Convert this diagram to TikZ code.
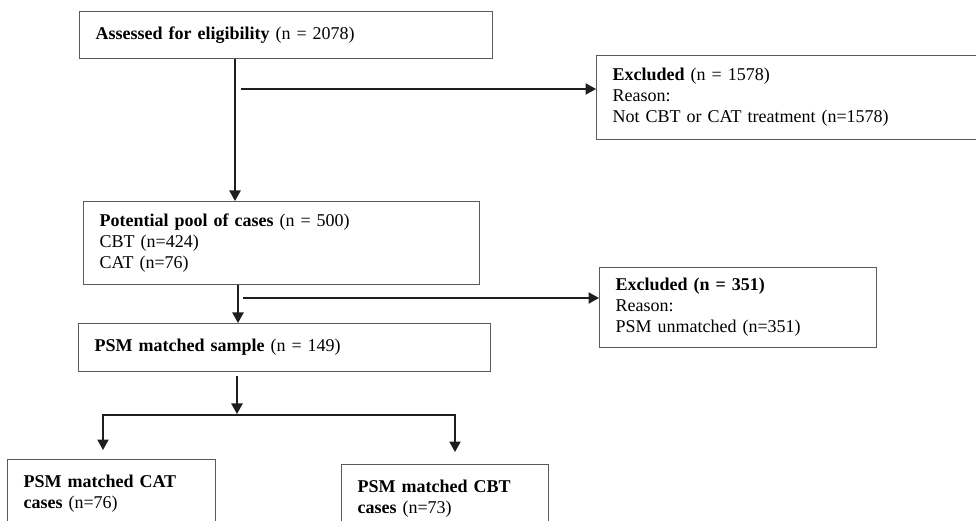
\documentclass[tikz,border=0pt]{standalone}
\usepackage{fontspec}
\setmainfont{Liberation Serif}
\usepackage{tikz}
\usetikzlibrary{arrows.meta, positioning}
\definecolor{boxgray}{HTML}{5a5a5a}
\definecolor{lindark}{HTML}{1e1e1e}

\begin{document}
\begin{tikzpicture}[
  x=0.6667pt, y=-0.6667pt,
  bx/.style={rectangle, draw=boxgray, line width=0.8pt, anchor=north west,
             inner xsep=10.67pt, inner ysep=3pt, align=left,
             font=\fontsize{12}{14}\selectfont},
  arr/.style={-{Triangle[length=7pt, width=7.5pt]}, line width=1pt, color=lindark},
  ln/.style={line width=1pt, color=lindark, line cap=rect}
]
\useasboundingbox (0,0) rectangle (976,521);
\clip (0,0) rectangle (976,521);

\node[bx, text width=254pt, minimum height=31.33pt] (elig) at (79,11) {\textbf{Assessed for eligibility} (n = 2078)};
\node[bx, text width=245.33pt, minimum height=56pt] (exa) at (596,55) {\textbf{Excluded} (n = 1578)\\Reason:\\Not CBT or CAT treatment (n=1578)};
\node[bx, text width=242.67pt, minimum height=55.33pt] (pool) at (83,201) {\textbf{Potential pool of cases} (n = 500)\\CBT (n=424)\\CAT (n=76)};
\node[bx, text width=163.33pt, minimum height=53.33pt] (exb) at (599,267) {\textbf{Excluded (n = 351)}\\Reason:\\PSM unmatched (n=351)};
\node[bx, text width=253.33pt, minimum height=32pt] (psm) at (78,323) {\textbf{PSM matched sample} (n = 149)};
\node[bx, text width=117.33pt, minimum height=45.33pt] (cat) at (7,459) {\textbf{PSM matched CAT}\\\textbf{cases} (n=76)};
\node[bx, text width=116.67pt, minimum height=45.33pt] (cbt) at (341,464) {\textbf{PSM matched CBT}\\\textbf{cases} (n=73)};

\coordinate (v1) at (235,0);
\coordinate (v2) at (238,0);
\coordinate (h1) at (241,89);
\coordinate (h2) at (243,298);
\coordinate (s3) at (237,376);
\coordinate (fk) at (237,414);
\coordinate (fl) at (103,415);
\coordinate (fr) at (455,415);

\draw[arr] (elig.south -| v1) -- (pool.north -| v1);
\draw[arr] (h1) -- (h1 -| exa.west);
\draw[arr] (pool.south -| v2) -- (psm.north -| v2);
\draw[arr] (h2) -- (h2 -| exb.west);
\draw[arr] (s3) -- (fk);
\draw[ln] (fl) -- (fr);
\draw[arr, shorten >=6pt] (fl) -- (fl |- cat.north);
\draw[arr, shorten >=8pt] (fr) -- (fr |- cbt.north);
\end{tikzpicture}
\end{document}
